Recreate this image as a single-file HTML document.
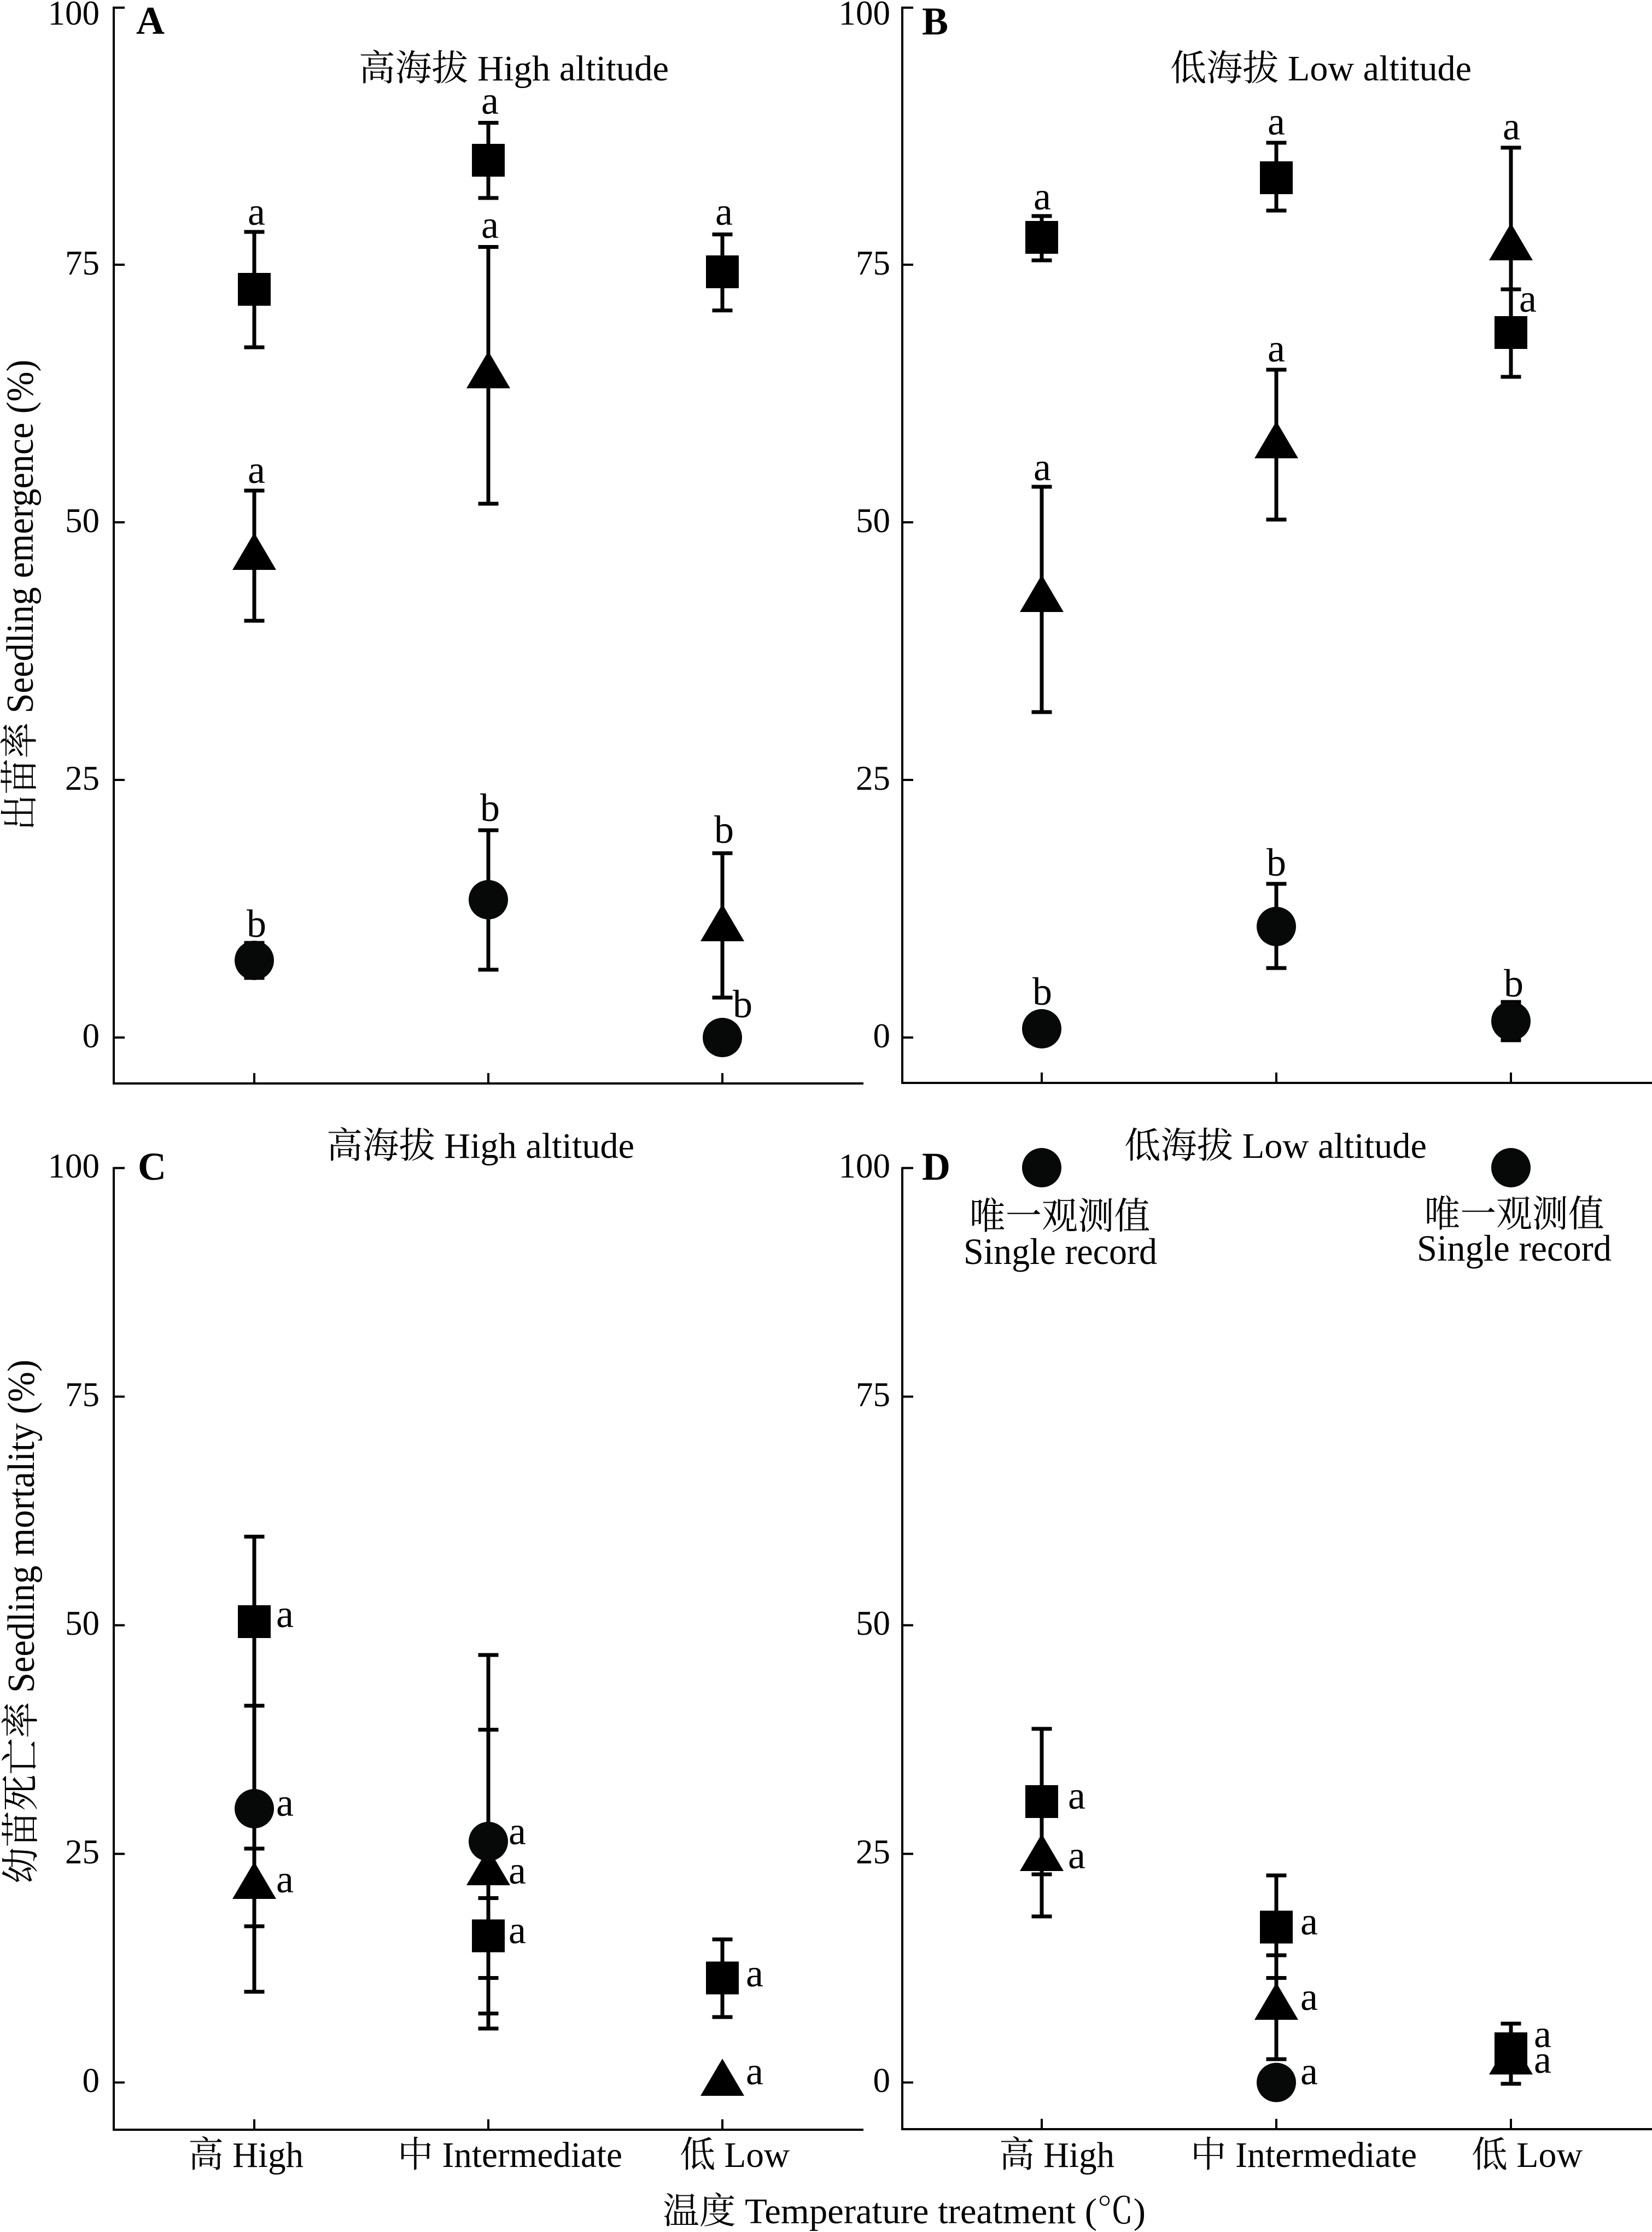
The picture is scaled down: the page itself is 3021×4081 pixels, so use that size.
<!DOCTYPE html>
<html><head><meta charset="utf-8"><style>
html,body{margin:0;padding:0;background:#fff;}
svg{display:block;}
text{font-family:"Liberation Serif","Noto Serif CJK SC",serif;fill:#000;}
</style></head><body>
<svg xmlns="http://www.w3.org/2000/svg" width="3021" height="4081" viewBox="0 0 3021 4081">
<rect width="3021" height="4081" fill="#fff"/>
<!-- Axes -->
<g stroke="#000" stroke-width="4" fill="none">
<line x1="208" y1="12" x2="208" y2="1983"/>
<line x1="206" y1="1981" x2="1579" y2="1981"/>
<line x1="1650" y1="12" x2="1650" y2="1982"/>
<line x1="1648" y1="1980" x2="3021" y2="1980"/>
<line x1="208" y1="2134" x2="208" y2="3896"/>
<line x1="206" y1="3894" x2="1579" y2="3894"/>
<line x1="1650" y1="2134" x2="1650" y2="3895"/>
<line x1="1648" y1="3893" x2="3021" y2="3893"/>
</g>
<g stroke="#000" stroke-width="4">
<path d="M208 14H228M208 484H228M208 955H228M208 1426H228M208 1897H228"/>
<path d="M1650 14H1670M1650 484H1670M1650 955H1670M1650 1426H1670M1650 1897H1670"/>
<path d="M208 2135.6H228M208 2553.6H228M208 2971.6H228M208 3389.6H228M208 3807.6H228"/>
<path d="M1650 2135.6H1670M1650 2553.6H1670M1650 2971.6H1670M1650 3389.6H1670M1650 3807.6H1670"/>
<path d="M465 1981V1962M893 1981V1962M1321 1981V1962"/>
<path d="M1905 1980V1961M2334 1980V1961M2763 1980V1961"/>
<path d="M465 3894V3875M893 3894V3875M1321 3894V3875"/>
<path d="M1905 3893V3874M2334 3893V3874M2763 3893V3874"/>
</g>
<!-- tick labels -->
<g font-size="63" text-anchor="end">
<text x="182" y="45">100</text><text x="182" y="502">75</text><text x="182" y="973">50</text><text x="182" y="1444">25</text><text x="182" y="1915">0</text>
<text x="1628" y="45">100</text><text x="1628" y="502">75</text><text x="1628" y="973">50</text><text x="1628" y="1444">25</text><text x="1628" y="1915">0</text>
<text x="182" y="2153">100</text><text x="182" y="2571">75</text><text x="182" y="2989">50</text><text x="182" y="3407">25</text><text x="182" y="3825">0</text>
<text x="1628" y="2153">100</text><text x="1628" y="2571">75</text><text x="1628" y="2989">50</text><text x="1628" y="3407">25</text><text x="1628" y="3825">0</text>
</g>
<!-- panel letters -->
<g font-size="72" font-weight="bold">
<text x="249" y="62">A</text><text x="1686" y="63">B</text>
<text x="252" y="2157">C</text><text x="1686" y="2157">D</text>
</g>
<!-- titles -->
<g font-size="66">
<text x="656" y="147" textLength="567" lengthAdjust="spacingAndGlyphs">高海拔 High altitude</text>
<text x="2140" y="147" textLength="551" lengthAdjust="spacingAndGlyphs">低海拔 Low altitude</text>
<text x="597" y="2117" textLength="563" lengthAdjust="spacingAndGlyphs">高海拔 High altitude</text>
<text x="2056" y="2117" textLength="553" lengthAdjust="spacingAndGlyphs">低海拔 Low altitude</text>
<text x="344" y="3962" textLength="211" lengthAdjust="spacingAndGlyphs">高 High</text>
<text x="727" y="3962" textLength="411" lengthAdjust="spacingAndGlyphs">中 Intermediate</text>
<text x="1243" y="3962" textLength="201" lengthAdjust="spacingAndGlyphs">低 Low</text>
<text x="1827" y="3962" textLength="211" lengthAdjust="spacingAndGlyphs">高 High</text>
<text x="2177" y="3962" textLength="414" lengthAdjust="spacingAndGlyphs">中 Intermediate</text>
<text x="2691" y="3962" textLength="203" lengthAdjust="spacingAndGlyphs">低 Low</text>
<text x="1212" y="4065" textLength="883" lengthAdjust="spacingAndGlyphs">温度 Temperature treatment (℃)</text>
</g>
<g font-size="70">
<text transform="translate(60,1088) rotate(-90)" text-anchor="middle" textLength="861" lengthAdjust="spacingAndGlyphs">出苗率 Seedling emergence (%)</text>
<text transform="translate(62,2965) rotate(-90)" text-anchor="middle" textLength="958" lengthAdjust="spacingAndGlyphs">幼苗死亡率 Seedling mortality (%)</text>
</g>
<g font-size="68" text-anchor="middle">
<text x="1938" y="2247" textLength="331" lengthAdjust="spacingAndGlyphs">唯一观测值</text>
<text x="1939" y="2311" textLength="354" lengthAdjust="spacingAndGlyphs">Single record</text>
<text x="2769" y="2243" textLength="329" lengthAdjust="spacingAndGlyphs">唯一观测值</text>
<text x="2769" y="2305" textLength="356" lengthAdjust="spacingAndGlyphs">Single record</text>
</g>
<!-- error bars -->
<g stroke="#000" stroke-width="7" fill="none">
<path d="M465 424V635M446.5 424H483.5M446.5 635H483.5"/>
<path d="M465 897V1135M446.5 897H483.5M446.5 1135H483.5"/>
<path d="M465 1724V1788M446.5 1724H483.5M446.5 1788H483.5"/>
<path d="M893 224.5V362M874.5 224.5H911.5M874.5 362H911.5"/>
<path d="M893 451.5V921M874.5 451.5H911.5M874.5 921H911.5"/>
<path d="M893 1518V1773M874.5 1518H911.5M874.5 1773H911.5"/>
<path d="M1321 428.6V567.6M1302.5 428.6H1339.5M1302.5 567.6H1339.5"/>
<path d="M1321 1560V1824M1302.5 1560H1339.5M1302.5 1824H1339.5"/>
<path d="M1905 395V476M1886.5 395H1923.5M1886.5 476H1923.5"/>
<path d="M1905 890V1302M1886.5 890H1923.5M1886.5 1302H1923.5"/>
<path d="M2334 261V385M2315.5 261H2352.5M2315.5 385H2352.5"/>
<path d="M2334 676V950M2315.5 676H2352.5M2315.5 950H2352.5"/>
<path d="M2334 1616V1770M2315.5 1616H2352.5M2315.5 1770H2352.5"/>
<path d="M2763 270V689M2744.5 270H2781.5M2744.5 529H2781.5M2744.5 689H2781.5"/>
<path d="M2763 1832V1902M2744.5 1832H2781.5M2744.5 1902H2781.5"/>
<path d="M465 2809.6V3641.7M446.5 2809.6H483.5M446.5 3118.8H483.5M446.5 3380H483.5M446.5 3522H483.5M446.5 3641.7H483.5"/>
<path d="M893 3026V3709M874.5 3026H911.5M874.5 3162.6H911.5M874.5 3470.5H911.5M874.5 3616.5H911.5M874.5 3681.5H911.5M874.5 3709H911.5"/>
<path d="M1321 3546V3688M1302.5 3546H1339.5M1302.5 3688H1339.5"/>
<path d="M1905 3161V3504M1886.5 3161H1923.5M1886.5 3427H1923.5M1886.5 3504H1923.5"/>
<path d="M2334 3429V3765M2315.5 3429H2352.5M2315.5 3575H2352.5M2315.5 3616.5H2352.5M2315.5 3765H2352.5"/>
<path d="M2763 3700V3810M2744.5 3700H2781.5M2744.5 3810H2781.5"/>
</g>
<!-- triangles -->
<g fill="#000">
<polygon points="465,974 425,1042 505,1042"/>
<polygon points="893,642 853,710 933,710"/>
<polygon points="1321,1653 1281,1721 1361,1721"/>
<polygon points="1905,1051 1865,1119 1945,1119"/>
<polygon points="2334,770 2294,838 2374,838"/>
<polygon points="2763,408 2723,476 2803,476"/>
<polygon points="465,3404 425,3472 505,3472"/>
<polygon points="893,3379 853,3447 933,3447"/>
<polygon points="1321,3764 1281,3832 1361,3832"/>
<polygon points="1905,3353 1865,3421 1945,3421"/>
<polygon points="2334,3625 2294,3693 2374,3693"/>
<polygon points="2763,3725 2723,3793 2803,3793"/>
</g>
<!-- circles -->
<g fill="#070909">
<circle cx="465" cy="1756" r="36"/>
<circle cx="893" cy="1645" r="36"/>
<circle cx="1321" cy="1897" r="36"/>
<circle cx="1905" cy="1881" r="36"/>
<circle cx="2334" cy="1694" r="36"/>
<circle cx="2763" cy="1867" r="36"/>
<circle cx="465" cy="3307" r="36"/>
<circle cx="893" cy="3367" r="36"/>
<circle cx="2334" cy="3807.6" r="36"/>
<circle cx="1905" cy="2135" r="36"/>
<circle cx="2763" cy="2135" r="36"/>
</g>
<!-- squares -->
<g fill="#000">
<rect x="435" y="499" width="60" height="60"/>
<rect x="863" y="263" width="60" height="60"/>
<rect x="1291" y="467" width="60" height="60"/>
<rect x="1875" y="404" width="60" height="60"/>
<rect x="2304" y="295" width="60" height="60"/>
<rect x="2733" y="578" width="60" height="60"/>
<rect x="435" y="2935" width="60" height="60"/>
<rect x="863" y="3509.5" width="60" height="60"/>
<rect x="1291" y="3586.5" width="60" height="60"/>
<rect x="1875" y="3264" width="60" height="60"/>
<rect x="2304" y="3493.5" width="60" height="60"/>
<rect x="2733" y="3716" width="60" height="60"/>
</g>
<!-- significance letters -->
<g font-size="72" text-anchor="middle">
<text x="469" y="411">a</text><text x="469" y="883">a</text><text x="469" y="1713">b</text>
<text x="896" y="208">a</text><text x="896" y="435">a</text><text x="896" y="1501">b</text>
<text x="1324" y="411">a</text><text x="1324" y="1541">b</text>
<text x="1906" y="383">a</text><text x="1906" y="878">a</text><text x="1906" y="1837">b</text>
<text x="2334" y="246">a</text><text x="2334" y="661">a</text><text x="2334" y="1601">b</text>
<text x="2764" y="255">a</text><text x="2768" y="1822">b</text>
</g>
<g font-size="72">
<text x="1340" y="1860">b</text>
<text x="2778" y="570">a</text>
<text x="505" y="2975">a</text><text x="505" y="3320">a</text><text x="505" y="3460">a</text>
<text x="930" y="3372">a</text><text x="930" y="3444">a</text><text x="930" y="3553">a</text>
<text x="1364" y="3632">a</text><text x="1364" y="3811">a</text>
<text x="1953" y="3307">a</text><text x="1953" y="3416">a</text>
<text x="2378" y="3537">a</text><text x="2378" y="3675">a</text><text x="2378" y="3811">a</text>
<text x="2805" y="3743">a</text><text x="2805" y="3790">a</text>
</g>
</svg>
</body></html>
